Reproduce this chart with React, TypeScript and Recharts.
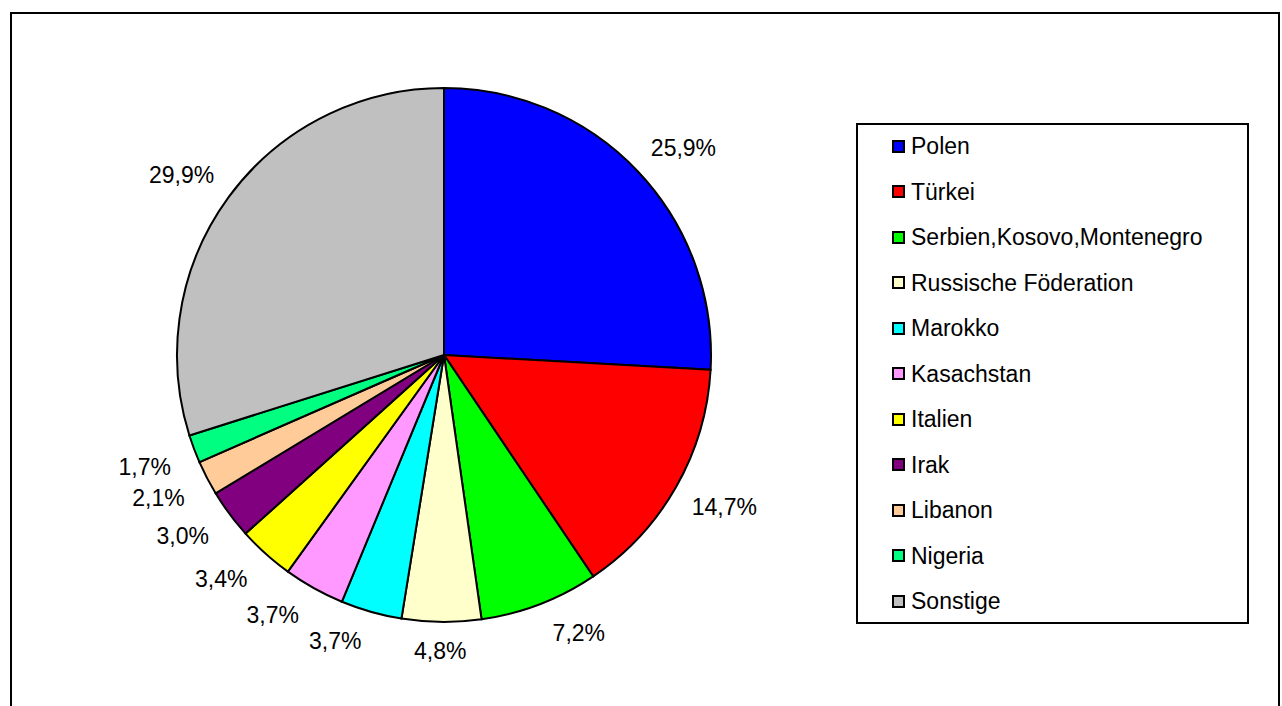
import React from 'react';
import { PieChart, Pie, Cell, Legend } from 'recharts';

const categories = [
  'Polen',
  'Türkei',
  'Serbien,Kosovo,Montenegro',
  'Russische Föderation',
  'Marokko',
  'Kasachstan',
  'Italien',
  'Irak',
  'Libanon',
  'Nigeria',
  'Sonstige',
];
const shares = [25.9, 14.7, 7.2, 4.8, 3.7, 3.7, 3.4, 3.0, 2.1, 1.7, 29.9];
const colors = [
  '#0000FF',
  '#FF0000',
  '#00FF00',
  '#FFFFCC',
  '#00FFFF',
  '#FF99FF',
  '#FFFF00',
  '#800080',
  '#FFCC99',
  '#00FF80',
  '#C0C0C0',
];

const data = categories.map((name, i) => ({ name, value: shares[i] }));

const FONT = "'Liberation Sans', Arial, sans-serif";
const RADIAN = Math.PI / 180;
const clamp = (v: number) => Math.max(-1, Math.min(1, v));

const renderLabel = (props: any) => {
  const { cx, cy, midAngle, value } = props;
  const a = midAngle * RADIAN;
  const cos = Math.cos(a);
  const sin = Math.sin(a);
  const rg = 285;
  const hw = 32.5;
  const hh = 11.5;
  const x = cx + rg * cos + hw * clamp(3.5 * cos);
  const y = cy - rg * sin - hh * clamp(3.5 * sin);
  const txt = Number(value).toFixed(1).replace('.', ',') + '%';
  return (
    <text
      x={x}
      y={y}
      textAnchor="middle"
      dominantBaseline="central"
      fontFamily={FONT}
      fontSize={23}
      fill="#000"
    >
      {txt}
    </text>
  );
};

const renderLegend = () => (
  <div
    style={{
      position: 'relative',
      width: 393,
      height: 501,
      boxSizing: 'border-box',
      border: '2px solid #000',
      background: '#fff',
      fontFamily: FONT,
      fontSize: 23,
      color: '#000',
    }}
  >
    {categories.map((name, i) => (
      <div
        key={name}
        style={{
          position: 'absolute',
          left: 34,
          top: 8 + i * 45.5,
          height: 26,
          lineHeight: '26px',
          display: 'flex',
          alignItems: 'center',
          whiteSpace: 'nowrap',
        }}
      >
        <span
          style={{
            display: 'inline-block',
            width: 13,
            height: 13,
            boxSizing: 'border-box',
            border: '2px solid #000',
            background: colors[i],
            marginRight: 6,
          }}
        />
        <span>{name}</span>
      </div>
    ))}
  </div>
);

export default function App() {
  return (
    <div
      style={{
        position: 'absolute',
        left: 0,
        top: 0,
        width: 1282,
        height: 706,
        background: '#fff',
        overflow: 'hidden',
      }}
    >
      <div
        style={{
          position: 'absolute',
          left: 10,
          top: 12,
          width: 1270,
          height: 720,
          boxSizing: 'border-box',
          border: '2px solid #000',
        }}
      />
      <div style={{ position: 'absolute', left: 0, top: 0 }}>
        <PieChart width={1282} height={706} margin={{ top: 0, right: 0, bottom: 0, left: 0 }}>
          <Pie
            data={data}
            dataKey="value"
            nameKey="name"
            cx={444}
            cy={355}
            outerRadius={267}
            startAngle={90}
            endAngle={-270}
            stroke="#000"
            strokeWidth={2}
            label={renderLabel}
            labelLine={false}
            isAnimationActive={false}
          >
            {data.map((d, i) => (
              <Cell key={d.name} fill={colors[i]} stroke="#000" strokeWidth={2} />
            ))}
          </Pie>
          <Legend
            layout="vertical"
            align="right"
            verticalAlign="middle"
            content={renderLegend}
            wrapperStyle={{ position: 'absolute', left: 856, top: 123, width: 393, height: 501, right: 'auto', bottom: 'auto' }}
          />
        </PieChart>
      </div>
    </div>
  );
}
